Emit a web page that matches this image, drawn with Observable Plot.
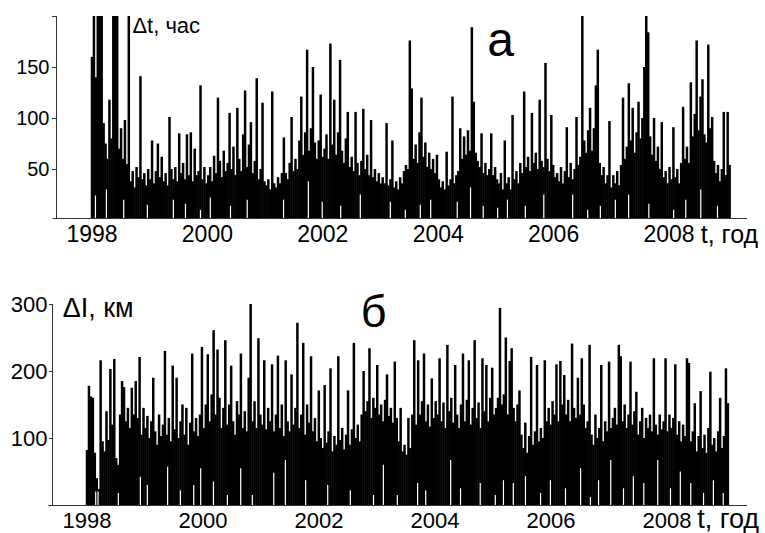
<!DOCTYPE html>
<html><head><meta charset="utf-8">
<script src="https://cdn.jsdelivr.net/npm/d3@7"></script>
<script src="https://cdn.jsdelivr.net/npm/@observablehq/plot@0.6"></script>
<style>
body{margin:0;background:#fff;}
#chart{position:relative;width:765px;height:533px;overflow:hidden;background:#fff;}
#chart svg{display:block;}
</style></head><body><div id="chart"></div>
<script>
// ---- data ----
const yearTicks = [1998, 2000, 2002, 2004, 2006, 2008];
const seriesStart = 1998.0;
const seriesEnd = 2009.05;

// panel а: Δt, hours (about 30 samples per year, 1998 … 2008)
const dtValues = [
  160,250,140,250,250,250,95,75,60,118,80,250,250,250,70,90,60,98,55,250,38,48,32,52,42,141,40,46,34,50,
  40,78,36,48,75,42,62,38,46,34,101,50,40,52,38,85,46,56,40,84,44,86,38,70,44,48,132,40,52,36,
  44,52,38,63,46,120,58,42,68,48,56,105,50,72,44,110,60,48,84,127,52,74,96,46,58,139,40,50,115,38,
  34,40,30,126,36,32,42,36,46,81,46,40,56,101,48,60,50,78,121,64,86,167,68,90,150,76,60,78,123,62,
  70,84,60,173,74,118,64,86,157,68,56,80,106,52,62,48,106,56,44,58,109,50,64,44,98,42,50,38,46,36,
  42,36,95,34,40,78,32,38,30,42,36,48,54,50,176,129,60,74,56,86,120,62,76,52,66,50,60,46,64,40,
  32,38,30,67,34,40,121,36,44,48,90,60,82,64,88,68,189,116,66,58,52,85,46,56,44,50,85,44,52,40,
  36,46,30,78,36,42,30,103,40,48,36,56,46,126,52,62,48,105,56,66,50,118,58,52,154,60,48,103,54,42,
  46,38,52,36,48,91,42,56,40,50,101,54,62,250,78,66,88,110,68,90,132,167,56,44,52,36,44,97,32,44,
  36,48,34,54,120,60,72,134,78,110,66,86,116,80,100,150,250,184,82,64,100,58,72,50,96,42,48,36,52,40,
  91,42,50,36,56,111,60,72,56,135,82,104,176,88,121,138,84,76,172,90,101,58,46,54,38,50,106,44,106,54
];
// low dips of the Δt series: [year, value]
const dtDips = [
  [1998.06,24],[1998.25,30],[1998.55,20],[1998.96,15],[1999.41,20],[1999.62,16],[1999.88,10],
  [2000.05,22],[2000.40,14],[2000.69,20],[2001.32,20],[2001.75,38],[2001.99,18],[2002.31,14],
  [2002.65,25],[2003.17,18],[2003.43,10],[2003.69,15],[2003.87,20],[2004.33,18],[2004.56,32],
  [2004.78,14],[2005.03,12],[2005.20,20],[2005.51,14],[2005.83,25],[2006.33,25],[2006.59,10],
  [2006.81,14],[2007.07,20],[2007.30,25],[2007.65,16],[2008.08,10],[2008.29,20],[2008.55,30],
  [2008.84,14]
];

// panel б: Δl, km
const dlValues = [
  82,178,162,160,78,40,24,216,95,80,140,97,203,120,218,70,60,135,185,176,125,145,115,175,135,185,130,221,105,145,
  115,133,100,125,190,110,90,135,103,120,230,105,130,95,208,113,190,100,125,150,105,145,90,123,226,110,130,103,135,236,
  115,150,225,125,165,261,135,232,160,115,145,246,120,150,208,125,105,155,135,226,115,140,110,190,301,125,155,115,249,135,
  120,216,113,145,125,210,110,135,223,115,150,103,216,125,110,195,120,145,272,115,135,242,105,150,123,222,110,130,95,171,
  100,85,179,93,110,204,80,103,90,222,97,115,83,105,171,90,113,242,100,120,95,135,200,140,155,234,130,160,145,209,
  135,150,125,157,195,133,145,123,214,130,95,145,80,90,75,130,85,135,246,120,216,135,155,226,125,150,117,189,130,155,
  135,219,125,153,115,239,140,160,123,209,135,115,150,226,125,157,216,120,145,246,130,153,115,219,140,209,125,160,205,135,
  145,160,294,150,165,250,135,215,234,145,125,150,171,105,85,123,78,103,221,90,110,209,95,115,100,216,125,145,120,155,
  135,210,125,215,150,194,135,157,125,241,145,130,190,135,219,150,115,125,239,105,90,135,100,115,209,95,125,110,214,115,
  130,145,120,239,222,125,150,115,135,214,120,140,169,105,125,145,100,130,115,135,110,219,120,105,135,113,125,219,110,135,
  115,130,210,105,125,95,120,103,219,212,95,110,152,80,103,170,85,105,78,115,199,90,100,80,110,160,85,103,204,152
];
const dlDips = [
  [1998.15,20],[1998.19,20],[1998.54,18],[1998.92,42],[1999.04,30],[1999.39,57],[1999.61,22],
  [1999.84,30],[1999.96,55],[2000.18,35],[2000.42,15],[2000.65,55],[2000.85,15],[2001.22,48],
  [2001.42,67],[2001.77,37],[2002.15,30],[2002.54,22],[2002.94,15],[2003.11,60],[2003.35,15],
  [2003.70,33],[2003.84,22],[2004.27,67],[2004.44,25],[2004.78,33],[2005.04,15],[2005.18,37],
  [2005.35,33],[2005.56,43],[2005.82,18],[2005.99,37],[2006.25,25],[2006.51,55],[2006.68,12],
  [2006.82,37],[2007.03,67],[2007.25,25],[2007.42,43],[2007.60,33],[2007.84,67],[2008.06,25],
  [2008.23,50],[2008.41,33],[2008.63,18],[2008.80,37],[2008.97,18]
];

// ---- build ----
const font = "'Liberation Sans', Arial, Helvetica, sans-serif";
function toRows(vals) {
  const n = vals.length;
  return vals.map((v, i) => ({t: seriesStart + i * (seriesEnd - seriesStart) / (n - 1), v}));
}

function panel(o) {
  return Plot.plot({
    width: 765, height: o.height,
    marginLeft: o.ml, marginRight: 18, marginTop: o.mt, marginBottom: o.mb,
    style: {fontFamily: font, background: "white", color: "#000", overflow: "visible"},
    x: {domain: o.xd, axis: null},
    y: {domain: o.yd, axis: null},
    marks: [
      Plot.ruleX(toRows(o.values), {x: "t", y1: o.yd[0], y2: "v", stroke: "#000", strokeWidth: 2.5,
        shapeRendering: "auto", clip: true}),
      Plot.ruleX(o.dips, {x: d => d[0], y1: o.yd[0], y2: d => d[1], stroke: "#fff", strokeWidth: 1.2, shapeRendering: "auto"}),
      Plot.ruleX([o.xd[0]], {y1: o.yd[0], y2: o.yd[1], stroke: "#333", strokeWidth: 1}),
      Plot.ruleY([o.yd[0]], {x1: o.xd[0] - 0.06, x2: o.xd[1], stroke: "#333", strokeWidth: 1}),
      Plot.axisY({ticks: o.yTicks, tickFormat: d => (d === o.yd[1] && o.hideTop) ? "" : String(d),
        tickSize: o.tickSize, tickPadding: o.tickPad, fontSize: o.yFont, stroke: "#333", label: null}),
      Plot.axisX({ticks: yearTicks, tickFormat: d => String(d), tickSize: 0, tickPadding: 7, fontSize: o.xFont, label: null}),
      Plot.text([o.unit], {x: o.unitPos[0], y: o.unitPos[1], text: d => d, textAnchor: "start", lineAnchor: "bottom", fontSize: o.unitFont}),
      Plot.text([o.letter], {x: o.letterPos[0], y: o.letterPos[1], text: d => d, textAnchor: "middle", lineAnchor: "bottom", fontSize: o.letterFont}),
      Plot.text([o.tLabel], {x: o.tPos[0], y: o.tPos[1], text: d => d, textAnchor: "start", lineAnchor: "bottom", fontSize: o.tFont})
    ]
  });
}

const a = panel({
  height: 260, ml: 56, mt: 16, mb: 42,
  xd: [1997.385, 2009.36], yd: [2, 200],
  values: dtValues, dips: dtDips,
  yTicks: [50, 100, 150, 200], hideTop: true, tickSize: 4, tickPad: 3, yFont: 20, xFont: 23,
  unit: "Δt, час", unitPos: [1998.70, 183.4], unitFont: 22,
  letter: "а", letterPos: [2005.08, 160.8], letterFont: 48,
  tLabel: "t, год", tPos: [2008.55, -22.5], tFont: 25
});
const b = panel({
  height: 273, ml: 52, mt: 44, mb: 28,
  xd: [1997.405, 2009.388], yd: [0, 300],
  values: dlValues, dips: dlDips,
  yTicks: [100, 200, 300], hideTop: false, tickSize: 3, tickPad: 2, yFont: 22, xFont: 22,
  unit: "ΔI, км", unitPos: [1997.58, 280.6], unitFont: 27,
  letter: "б", letterPos: [2002.94, 265.7], letterFont: 45,
  tLabel: "t, год", tPos: [2008.52, -34.3], tFont: 27
});
const chart = document.getElementById("chart");
chart.appendChild(a);
chart.appendChild(b);
</script>
</body></html>
